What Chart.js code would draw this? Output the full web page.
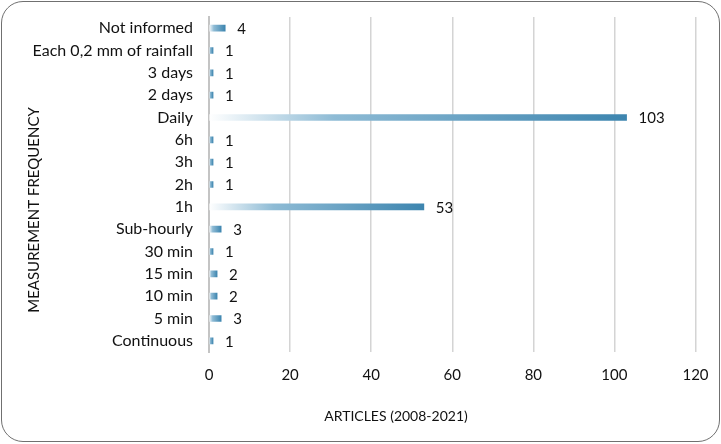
<!DOCTYPE html>
<html>
<head>
<meta charset="utf-8">
<script src="https://cdn.jsdelivr.net/npm/chart.js@4/dist/chart.umd.min.js"></script>
<style>
html,body{margin:0;padding:0;background:#fff;}
#wrap{position:relative;width:721px;height:444px;}
#frame{position:absolute;left:1px;top:1px;width:719px;height:441px;box-sizing:border-box;border:1.6px solid #707070;border-radius:22px;pointer-events:none;}
canvas{position:absolute;left:0;top:0;}
</style>
</head>
<body>
<div id="wrap">
<canvas id="c" width="721" height="444"></canvas>
<div id="frame"></div>
</div>
<script>
const categories = ["Not informed","Each 0,2 mm of rainfall","3 days","2 days","Daily","6h","3h","2h","1h","Sub-hourly","30 min","15 min","10 min","5 min","Continuous"];
const articles = [4,1,1,1,103,1,1,1,53,3,1,2,2,3,1];
const xTicks = [0,20,40,60,80,100,120];
const yAxisTitle = "MEASUREMENT FREQUENCY";
const xAxisTitle = "ARTICLES (2008-2021)";

const FONT = "Lato, 'Open Sans', sans-serif";

const labelPlugin = {
  id: 'valueLabels',
  afterDatasetsDraw(chart) {
    const ctx = chart.ctx;
    const meta = chart.getDatasetMeta(0);
    ctx.save();
    ctx.font = "15px " + FONT;
    ctx.fillStyle = "#111";
    ctx.textAlign = "left";
    ctx.textBaseline = "middle";
    meta.data.forEach((bar, i) => {
      ctx.fillText(String(articles[i]), bar.x + 12, bar.y + 1);
    });
    ctx.restore();
  },
  afterDraw(chart) {
    const ctx = chart.ctx;
    ctx.save();
    ctx.fillStyle = "#111";
    ctx.textAlign = "center";
    ctx.textBaseline = "middle";
    ctx.font = "14px " + FONT;
    ctx.fillText(xAxisTitle, 396, 416);
    ctx.font = "15px " + FONT;
    ctx.translate(34, 210);
    ctx.rotate(-Math.PI/2);
    ctx.fillText(yAxisTitle, 0, 0);
    ctx.restore();
  }
};

new Chart(document.getElementById('c'), {
  type: 'bar',
  data: {
    labels: categories,
    datasets: [{
      data: articles,
      barThickness: 6,
      backgroundColor(context) {
        const chart = context.chart;
        if (!chart.chartArea) return '#4a8cb4';
        const xs = chart.scales.x;
        const x0 = xs.getPixelForValue(0);
        const x1 = xs.getPixelForValue(context.raw || 0.0001);
        const g = chart.ctx.createLinearGradient(x0, 0, Math.max(x1, x0 + 1), 0);
        g.addColorStop(0, 'rgba(255,255,255,1)');
        g.addColorStop(0.3, '#8ebbd5');
        g.addColorStop(1, '#3d85af');
        return g;
      },
      borderWidth: 0
    }]
  },
  options: {
    responsive: false,
    animation: false,
    indexAxis: 'y',
    layout: { padding: { top: 17, right: 25.5, left: 0, bottom: 0 } },
    plugins: { legend: { display: false }, tooltip: { enabled: false } },
    scales: {
      x: {
        min: 0, max: 120,
        afterBuildTicks(scale) { scale.ticks = xTicks.map(v => ({ value: v })); },
        afterFit(scale) { scale.height = 92; scale.paddingLeft = 0; scale.paddingRight = 0; },
        ticks: { font: { family: FONT, size: 15 }, color: '#111', padding: 14 },
        grid: { color: '#d4d4d4', lineWidth: 1.5, drawTicks: false },
        border: { display: false }
      },
      y: {
        afterFit(scale) { scale.width = 209; scale.paddingTop = 0; scale.paddingBottom = 0; },
        ticks: { font: { family: FONT, size: 16 }, color: '#111', padding: 16 },
        grid: { display: false, drawTicks: false },
        border: { display: true, color: '#c4c4c4', width: 2 }
      }
    }
  },
  plugins: [labelPlugin]
});
</script>
</body>
</html>
